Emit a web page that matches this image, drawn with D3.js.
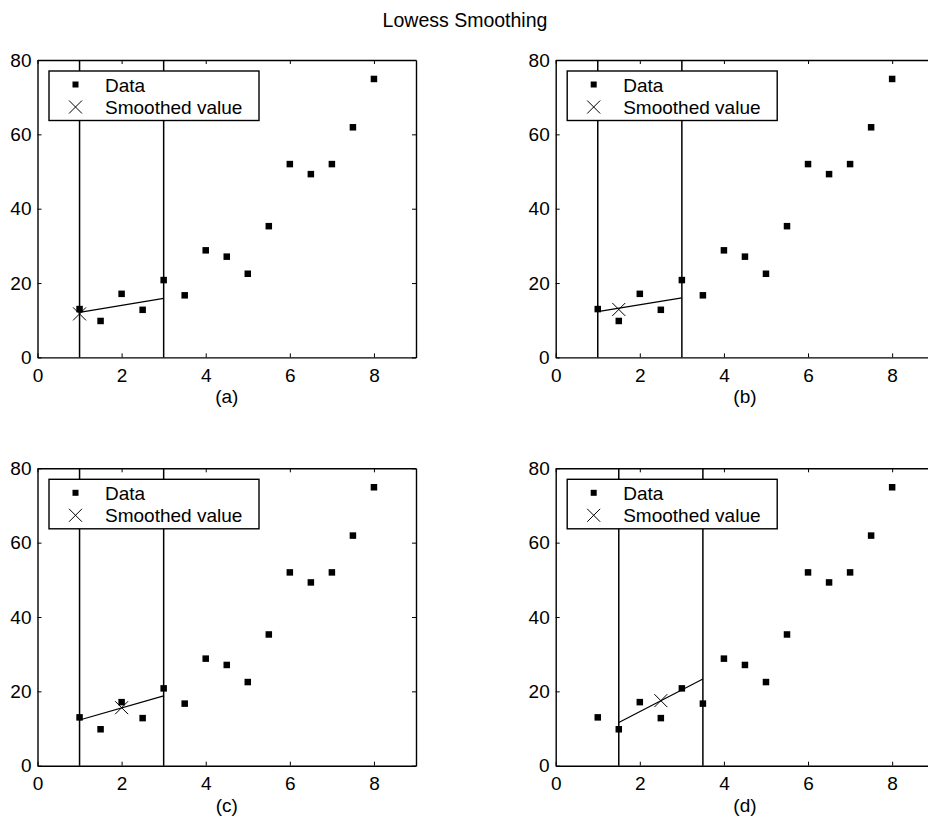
<!DOCTYPE html>
<html>
<head>
<meta charset="utf-8">
<script src="https://cdn.jsdelivr.net/npm/d3@7"></script>
<style>
  html, body { margin: 0; padding: 0; background: #fff; overflow: hidden; }
  svg { display: block; }
  text { font-family: "Liberation Sans", Arial, Helvetica, sans-serif; fill: #000; }
</style>
</head>
<body>
<svg id="chart" width="928" height="817"></svg>
<script>
// ---- data ----
const xData = [1, 1.5, 2, 2.5, 3, 3.5, 4, 4.5, 5, 5.5, 6, 6.5, 7, 7.5, 8];
const yData = [13.0, 9.8, 17.1, 12.8, 20.8, 16.7, 28.8, 27.1, 22.5, 35.3, 52.0, 49.3, 52.0, 61.9, 74.9];
const panelLabels = ["(a)", "(b)", "(c)", "(d)"];
const spanLeft = [1, 1, 1, 1.5];
const spanRight = [3, 3, 3, 3.5];
const smoothX = [1, 1.5, 2, 2.5];
const smoothY = [11.7, 12.9, 15.6, 17.5];
const fitLeftY = [12.1, 12.3, 12.3, 11.6];
const fitRightY = [15.9, 16.0, 18.8, 23.3];
const xTicks = [0, 2, 4, 6, 8];
const yTicks = [0, 20, 40, 60, 80];
const legendLabels = ["Data", "Smoothed value"];
const title = "Lowess Smoothing";

// ---- layout ----
const svg = d3.select("#chart");
const fontSize = 19;
const panelOrigins = [[37.5, 60], [555.7, 60], [37.5, 468.3], [555.7, 468.3]];
const plotW = 378.5, plotH = 297.4;

svg.append("text")
  .attr("x", 465).attr("y", 27)
  .attr("text-anchor", "middle")
  .style("font-size", "19.5px")
  .text(title);

function xMark(g, cx, cy, r, w) {
  g.append("path")
    .attr("d", `M${cx - r},${cy - r}L${cx + r},${cy + r}M${cx - r},${cy + r}L${cx + r},${cy - r}`)
    .attr("stroke", "#000").attr("stroke-width", w).attr("fill", "none");
}

panelOrigins.forEach(([ox, oy], i) => {
  const g = svg.append("g").attr("transform", `translate(${ox},${oy})`);
  const x = d3.scaleLinear().domain([0, 9]).range([0, plotW]);
  const y = d3.scaleLinear().domain([0, 80]).range([plotH, 0]);

  // axes (MATLAB-style inward ticks on all sides)
  const ax = [
    g.append("g").attr("transform", `translate(0,${plotH})`)
      .call(d3.axisBottom(x).tickValues(xTicks).tickSizeInner(-4).tickSizeOuter(0).tickPadding(11)),
    g.append("g")
      .call(d3.axisTop(x).tickValues(xTicks).tickSizeInner(-4).tickSizeOuter(0).tickFormat("")),
    g.append("g")
      .call(d3.axisLeft(y).tickValues(yTicks).tickSizeInner(-4).tickSizeOuter(0).tickPadding(6)),
    g.append("g").attr("transform", `translate(${plotW},0)`)
      .call(d3.axisRight(y).tickValues(yTicks).tickSizeInner(-4).tickSizeOuter(0).tickFormat(""))
  ];
  ax.forEach(a => {
    a.select(".domain").attr("stroke", "#000").attr("stroke-width", 1.4);
    a.selectAll(".tick line").attr("stroke", "#000").attr("stroke-width", 1);
    a.selectAll(".tick text").style("font-size", fontSize + "px").attr("fill", "#000")
      .style("font-family", '"Liberation Sans", Arial, Helvetica, sans-serif');
  });

  // span lines
  [spanLeft[i], spanRight[i]].forEach(v => {
    g.append("line")
      .attr("x1", x(v)).attr("x2", x(v))
      .attr("y1", 0).attr("y2", plotH)
      .attr("stroke", "#000").attr("stroke-width", 1.5);
  });

  // local fit line
  g.append("line")
    .attr("x1", x(spanLeft[i])).attr("y1", y(fitLeftY[i]))
    .attr("x2", x(spanRight[i])).attr("y2", y(fitRightY[i]))
    .attr("stroke", "#000").attr("stroke-width", 1.2);

  // data points
  const ms = 6.5;
  g.selectAll("rect.pt").data(xData.map((d, k) => [d, yData[k]])).enter()
    .append("rect").attr("class", "pt")
    .attr("x", d => x(d[0]) - ms / 2).attr("y", d => y(d[1]) - ms / 2)
    .attr("width", ms).attr("height", ms).attr("fill", "#000");

  // smoothed value
  xMark(g, x(smoothX[i]), y(smoothY[i]), 6.5, 1);

  // legend
  const lg = g.append("g").attr("transform", "translate(11.5,11)");
  lg.append("rect").attr("x", 0).attr("y", 0).attr("width", 210).attr("height", 49.5)
    .attr("fill", "#fff").attr("stroke", "#000").attr("stroke-width", 1.4);
  lg.append("rect").attr("x", 26.5 - 3).attr("y", 13.5 - 3).attr("width", 6).attr("height", 6).attr("fill", "#000");
  xMark(lg, 26.5, 36, 6.5, 1);
  lg.append("text").attr("x", 56).attr("y", 20.5).style("font-size", fontSize + "px").text(legendLabels[0]);
  lg.append("text").attr("x", 56).attr("y", 42.5).style("font-size", fontSize + "px").text(legendLabels[1]);

  // panel label
  g.append("text")
    .attr("x", plotW / 2).attr("y", plotH + 46)
    .attr("text-anchor", "middle")
    .style("font-size", fontSize + "px")
    .text(panelLabels[i]);
});
</script>
</body>
</html>
